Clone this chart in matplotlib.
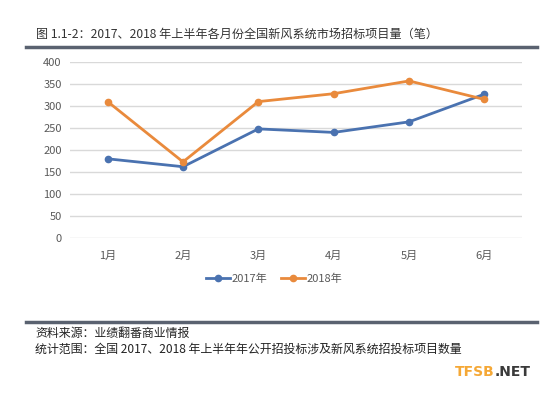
import matplotlib.pyplot as plt
from matplotlib.lines import Line2D

plt.rcParams['font.family'] = ['Noto Sans CJK SC', 'DejaVu Sans']

months = ["1月", "2月", "3月", "4月", "5月", "6月"]
y2017 = [180, 162, 248, 240, 264, 327]
y2018 = [310, 173, 310, 328, 357, 315]
yticks = [0, 50, 100, 150, 200, 250, 300, 350, 400]

title = "图 1.1-2：2017、2018 年上半年各月份全国新风系统市场招标项目量（笔）"
source = "资料来源：业绩翻番商业情报"
scope = "统计范围：全国 2017、2018 年上半年年公开招投标涉及新风系统招投标项目数量"

blue = "#4a72b0"
orange = "#e98a3c"
grey = "#595959"

fig = plt.figure(figsize=(5.48, 3.93), dpi=100)
ax = fig.add_axes([0.1277, 0.3944, 0.825, 0.4478])

x = range(len(months))
ax.plot(x, y2017, color=blue, linewidth=2, marker="o", markersize=4.5, label="2017年")
ax.plot(x, y2018, color=orange, linewidth=2, marker="o", markersize=4.5, label="2018年")

ax.set_xlim(-0.5, len(months) - 0.5)
ax.set_ylim(0, 400)
ax.set_yticks(yticks)
ax.set_xticks(list(x))
ax.set_xticklabels(months)
ax.grid(axis="y", color="#d9d9d9", linewidth=1)
ax.set_axisbelow(True)
for s in ax.spines.values():
    s.set_visible(False)
ax.tick_params(length=0, labelsize=8, colors=grey, pad=6)
ax.tick_params(axis="x", pad=9)

handles = [
    Line2D([], [], color=blue, linewidth=2, marker="o", markersize=4.5),
    Line2D([], [], color=orange, linewidth=2, marker="o", markersize=4.5),
]
fig.legend(handles, ["2017年", "2018年"], loc="center", bbox_to_anchor=(0.5, 1 - 279 / 393),
           ncol=2, frameon=False, fontsize=8, labelcolor=grey, handlelength=2.2,
           handletextpad=0.1, columnspacing=1.2)

# title and rules
fig.text(36 / 548, 1 - 34 / 393, title, fontsize=8.7, color="#333333", va="center", ha="left")
fig.add_artist(Line2D([26 / 548, 537 / 548], [1 - 46.5 / 393] * 2, color="#5a6270", linewidth=2.5))
fig.add_artist(Line2D([26 / 548, 537 / 548], [1 - 322 / 393] * 2, color="#5a6270", linewidth=2.5))

fig.text(35 / 548, 1 - 333 / 393, source, fontsize=8.6, color="#222222", va="center", ha="left")
fig.text(35 / 548, 1 - 349 / 393, scope, fontsize=8.6, color="#222222", va="center", ha="left")

# watermark: place ".NET" right after "TFSB"
t1 = fig.text(455 / 548, 1 - 372 / 393, "TFSB", fontsize=10, fontweight="bold", color="#f5a836",
              va="center", ha="left", family="DejaVu Sans")
renderer = fig.canvas.get_renderer()
bb = t1.get_window_extent(renderer=renderer)
fig.text(bb.x1 / fig.bbox.width, 1 - 372 / 393, ".NET", fontsize=10, fontweight="bold",
         color="#3a3a3a", va="center", ha="left", family="DejaVu Sans")

fig.savefig("out.png", dpi=100, facecolor="white")
